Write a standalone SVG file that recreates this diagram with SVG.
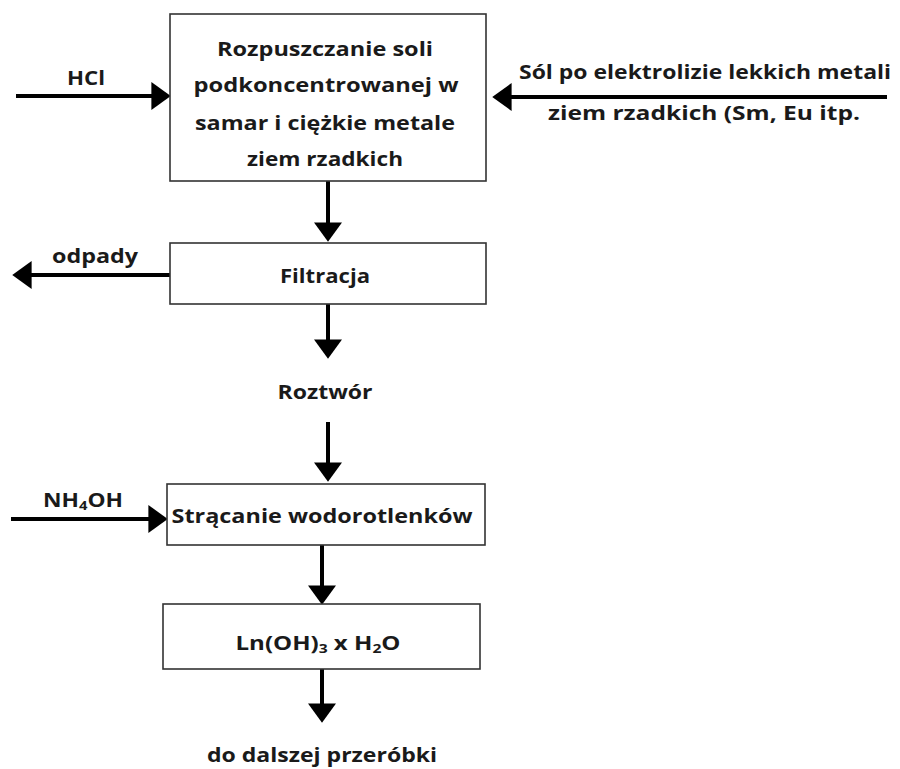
<svg xmlns="http://www.w3.org/2000/svg" width="900" height="769" viewBox="0 0 900 769">
<style>
.box{fill:#fff;stroke:#333;stroke-width:1.6}
.t{font-family:"Open Sans",Lato,"Liberation Sans",sans-serif;font-weight:700;font-size:20px;fill:#1a1a1a}
.c{text-anchor:middle}
.ln{stroke:#000;stroke-width:4;fill:none;marker-end:url(#ah)}
.sub{font-size:13px}
</style>
<defs>
<marker id="ah" markerUnits="userSpaceOnUse" markerWidth="20" markerHeight="28" viewBox="0 0 18 26" refX="8" refY="13" orient="auto">
<path d="M0,0 L18,13 L0,26 Z" fill="#000"/>
</marker>
</defs>
<rect width="900" height="769" fill="#fff"/>
<g id="connectors">
<line class="ln" x1="16" y1="96" x2="160" y2="96"/>
<line class="ln" x1="887" y1="97" x2="503" y2="97"/>
<line class="ln" x1="328" y1="181" x2="328" y2="231"/>
<line class="ln" x1="170" y1="275" x2="23" y2="275"/>
<line class="ln" x1="328" y1="304" x2="328" y2="348"/>
<line class="ln" x1="328" y1="422" x2="328" y2="471"/>
<line class="ln" x1="11" y1="519" x2="157" y2="519"/>
<line class="ln" x1="322" y1="545" x2="322" y2="594"/>
<line class="ln" x1="322" y1="669" x2="322" y2="712"/>
</g>
<g id="label-hcl"><text class="t c" x="86" y="85" textLength="38" lengthAdjust="spacingAndGlyphs">HCl</text></g>
<g id="label-sol">
<text class="t c" x="705" y="79" textLength="372" lengthAdjust="spacingAndGlyphs">Sól po elektrolizie lekkich metali</text>
<text class="t c" x="704" y="120" textLength="312" lengthAdjust="spacingAndGlyphs">ziem rzadkich (Sm, Eu itp.</text>
</g>
<g id="node-rozpuszczanie">
<rect class="box" x="170" y="14" width="316" height="167"/>
<text class="t c" x="325" y="56" textLength="216" lengthAdjust="spacingAndGlyphs">Rozpuszczanie soli</text>
<text class="t c" x="326" y="92" textLength="265" lengthAdjust="spacingAndGlyphs">podkoncentrowanej w</text>
<text class="t c" x="325" y="130" textLength="260" lengthAdjust="spacingAndGlyphs">samar i ciężkie metale</text>
<text class="t c" x="325" y="166" textLength="156" lengthAdjust="spacingAndGlyphs">ziem rzadkich</text>
</g>
<g id="node-filtracja">
<rect class="box" x="170" y="243" width="316" height="61"/>
<text class="t c" x="325" y="283" textLength="90" lengthAdjust="spacingAndGlyphs">Filtracja</text>
</g>
<g id="label-odpady"><text class="t c" x="95" y="263" textLength="86" lengthAdjust="spacingAndGlyphs">odpady</text></g>
<g id="node-roztwor"><text class="t c" x="325" y="399" textLength="95" lengthAdjust="spacingAndGlyphs">Roztwór</text></g>
<g id="label-nh4oh"><text class="t c" x="83" y="507" textLength="80" lengthAdjust="spacingAndGlyphs">NH<tspan class="sub" dy="3">4</tspan><tspan dy="-3">OH</tspan></text></g>
<g id="node-stracanie">
<rect class="box" x="167" y="484" width="318" height="61"/>
<text class="t c" x="322" y="523" textLength="301" lengthAdjust="spacingAndGlyphs">Strącanie wodorotlenków</text>
</g>
<g id="node-ln">
<rect class="box" x="163" y="604" width="317" height="65"/>
<text class="t c" x="318" y="650" textLength="165" lengthAdjust="spacingAndGlyphs">Ln(OH)<tspan class="sub" dy="3">3</tspan><tspan dy="-3"> x H</tspan><tspan class="sub" dy="3">2</tspan><tspan dy="-3">O</tspan></text>
</g>
<g id="node-dalszej"><text class="t c" x="322" y="762" textLength="230" lengthAdjust="spacingAndGlyphs">do dalszej przeróbki</text></g>
</svg>
